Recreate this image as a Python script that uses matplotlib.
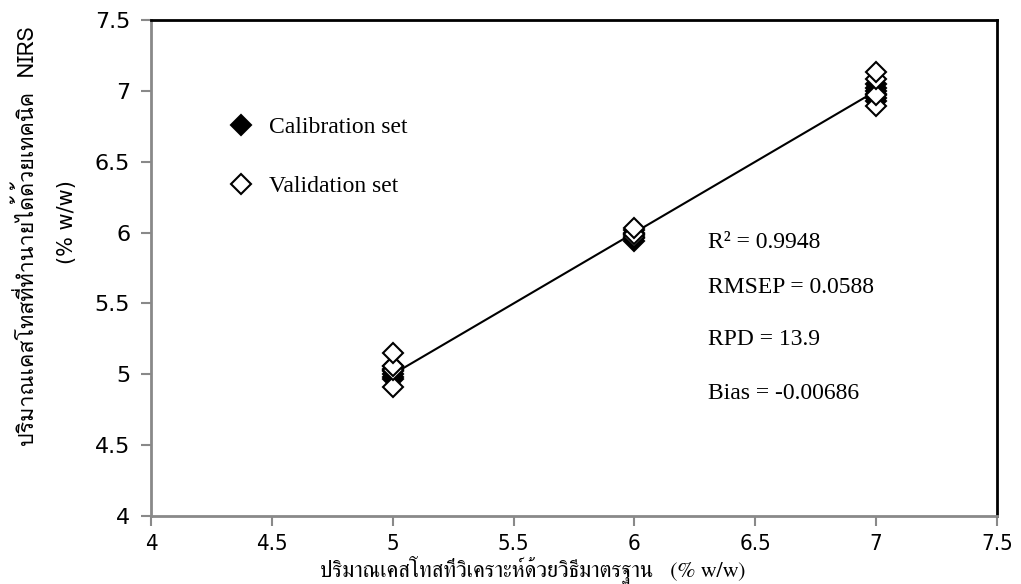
import numpy as np
import matplotlib
matplotlib.use('Agg')
import matplotlib.pyplot as plt
from matplotlib import font_manager, ft2font
from matplotlib.lines import Line2D

# reference vs predicted values (% w/w)
cal_x = [5, 5, 5, 5, 5, 5, 6, 6, 6, 6, 6, 7, 7, 7, 7, 7, 7]
cal_y = [4.97, 4.98, 5.00, 5.02, 5.04, 5.06, 5.94, 5.96, 5.98, 6.00, 6.02, 6.93, 6.95, 6.98, 7.00, 7.02, 7.05]
val_x = [5, 5, 5, 5, 6, 6, 6, 7, 7, 7, 7]
val_y = [4.91, 5.03, 5.06, 5.15, 5.97, 5.99, 6.03, 6.89, 6.97, 7.08, 7.13]
fit_x = [5.0, 7.0]
fit_y = [5.0, 7.0]

stats = ['R\u00b2 = 0.9948', 'RMSEP = 0.0588', 'RPD = 13.9', 'Bias = -0.00686']
xticks = [4, 4.5, 5, 5.5, 6, 6.5, 7, 7.5]
xticklabels = ['4', '4.5', '5', '5.5', '6', '6.5', '7', '7.5']
yticks = [4, 4.5, 5, 5.5, 6, 6.5, 7, 7.5]
yticklabels = ['4', '4.5', '5', '5.5', '6', '6.5', '7', '7.5']

xlabel = 'ปริมาณเคสโทสที่วิเคราะห์ด้วยวิธีมาตรฐาน   (% w/w)'
ylabel1 = 'ปริมาณเคสโทสที่ทำนายได้ด้วยเทคนิค  NIRS'
ylabel2 = '(% w/w)'


def thai_fonts():
    # look for installed families that carry Thai glyphs
    serif, sans = [], []
    seen = set()
    for f in font_manager.fontManager.ttflist:
        if f.name in seen:
            continue
        try:
            cmap = ft2font.FT2Font(f.fname).get_charmap()
        except Exception:
            continue
        if 0x0E1B in cmap and 0x0E34 in cmap:
            seen.add(f.name)
            if 'serif' in f.name.lower() and 'sans' not in f.name.lower():
                serif.append(f.name)
            else:
                sans.append(f.name)
    return serif, sans


th_serif, th_sans = thai_fonts()
serif_family = th_serif + th_sans + ['Liberation Serif', 'DejaVu Serif']
sans_family = th_sans + th_serif + ['DejaVu Sans']

fig = plt.figure(figsize=(10.21, 5.84), dpi=100)
ax = fig.add_axes([0.148, 0.1164, 0.8285, 0.8494])

ax.plot(fit_x, fit_y, color='black', lw=1.5, zorder=2)
ax.plot(cal_x, cal_y, 'D', ms=10, mfc='black', mec='black', mew=1.5, ls='none', zorder=3)
ax.plot(val_x, val_y, 'D', ms=10, mfc='white', mec='black', mew=1.5, ls='none', zorder=4)

ax.set_xlim(4, 7.5)
ax.set_ylim(4, 7.5)
ax.set_xticks(xticks)
ax.set_xticklabels(xticklabels, family='DejaVu Sans', fontstretch='condensed', fontsize=16)
ax.set_yticks(yticks)
ax.set_yticklabels(yticklabels, family='DejaVu Sans', fontsize=16)
ax.tick_params(axis='both', direction='out', length=7, width=1.5, color='#898989')
ax.tick_params(axis='y', pad=8)
ax.tick_params(axis='x', pad=6)

for side in ['left', 'bottom']:
    ax.spines[side].set_color('#898989')
    ax.spines[side].set_linewidth(2)
for side in ['top', 'right']:
    ax.spines[side].set_color('black')
    ax.spines[side].set_linewidth(2)

handles = [Line2D([], [], marker='D', ms=10, mfc='black', mec='black', mew=1.5, ls='none'),
           Line2D([], [], marker='D', ms=10, mfc='white', mec='black', mew=1.5, ls='none')]
ax.legend(handles, ['Calibration set', 'Validation set'], loc='upper left',
          bbox_to_anchor=(0.053, 0.848), frameon=False, labelspacing=1.6,
          handletextpad=0.2, prop={'family': 'Liberation Serif', 'size': 17})

ypos = [0.552, 0.46, 0.355, 0.248]
for s, yy in zip(stats, ypos):
    ax.text(0.658, yy, s, transform=ax.transAxes, family='Liberation Serif',
            fontsize=17, va='center', ha='left')

fig.text(0.522, 0.024, xlabel, family=serif_family, fontsize=16, ha='center', va='center')
fig.text(0.027, 0.595, ylabel1, family=sans_family, fontsize=15.5, rotation=90, ha='center', va='center')
fig.text(0.066, 0.62, ylabel2, family='DejaVu Sans', fontsize=15, rotation=90, ha='center', va='center')

fig.savefig('out.png', dpi=100)
